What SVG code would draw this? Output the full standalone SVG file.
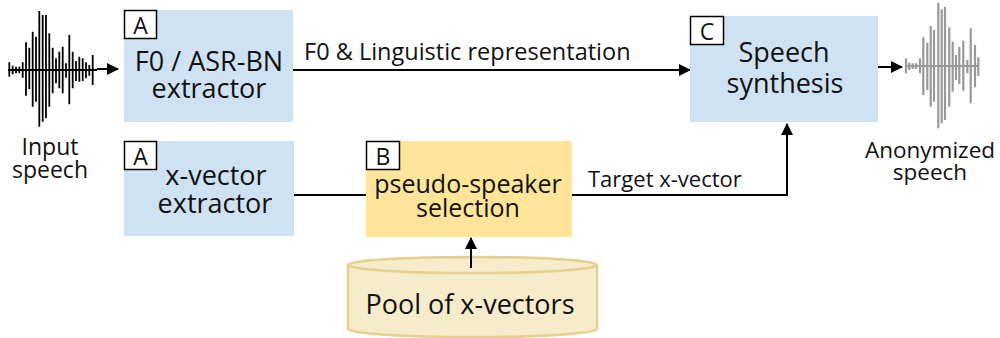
<svg xmlns="http://www.w3.org/2000/svg" width="1000" height="338" viewBox="0 0 1000 338">
<defs>
<marker id="ah" markerWidth="12" markerHeight="12" refX="11" refY="6" orient="auto" markerUnits="userSpaceOnUse">
<path d="M0,0 L12,6 L0,12 Z" fill="#000"/>
</marker>
<style>
text{font-family:"Open Sans","Noto Sans","DejaVu Sans",sans-serif;fill:#111;}
.main{font-size:27px;text-anchor:middle;}
.lbl{font-size:22px;}
.ctr{text-anchor:middle;}
.tag{font-size:23px;text-anchor:middle;}
.blue{fill:#cfe2f3;}
.yel{fill:#ffe599;}
.tagbox{fill:#fff;stroke:#000;stroke-width:1.5;}
.conn{stroke:#000;stroke-width:2;fill:none;}
</style>
</defs>
<g id="input-wave" stroke="#000" stroke-width="1.8" fill="none">
<path d="M8,70 H97"/>
<path d="M9.3,62.3V76.7 M12.7,65.7V74.3 M16,66.7V73.3 M19.3,66.7V73.3 M22.7,62.3V77.7 M26,42.3V95.7 M29.3,47.7V89 M32.7,31.7V106.7 M36,36.7V101.7 M39.3,11V126.7 M42.7,15V121.7 M46,15V118.3 M49.3,33.3V106.7 M52.7,47.7V93.3 M56,58.3V83.3 M59.3,51.7V88.3 M62.7,46.7V93.3 M66,63.3V77.7 M69.3,35V104.3 M72.7,51.7V88.3 M76,61V81 M79.3,56.7V81.7 M82.7,58.3V81 M86,62.3V78.3 M89.3,65V75.7 M92.7,55V85"/>
</g>
<text class="lbl ctr" x="50" y="155" style="font-size:23px">Input</text>
<text class="lbl ctr" x="50" y="178" style="font-size:23px">speech</text>
<g id="output-wave" stroke="#999" stroke-width="2.2" fill="none">
<path d="M905,66 H979"/>
<path d="M906,58.3V73.3 M909.3,62.7V70 M912.7,63.3V69 M916,63.3V69 M920,58.3V73.3 M923.3,37.3V95 M927.3,42.7V90 M930.7,26V106.7 M934,30V101.7 M938.3,2.7V128.3 M941.7,9.3V123.3 M945,6.7V120 M949.3,27.3V106.7 M952.7,41.7V91.7 M956,55V80 M959.3,46.7V84 M963.3,40.7V90.7 M967.3,60V73.3 M970.7,28.3V103.3 M975,45V87.3 M978.3,57.3V76"/>
</g>
<text class="lbl ctr" x="930" y="158" style="font-size:22.5px">Anonymized</text>
<text class="lbl ctr" x="930" y="180" style="font-size:22.5px">speech</text>
<g id="connectors">
<path class="conn" d="M97,69 H118" marker-end="url(#ah)"/>
<path class="conn" d="M293,70 H690" marker-end="url(#ah)"/>
<path class="conn" d="M878,67 H902" marker-end="url(#ah)"/>
<path class="conn" d="M294,195 H366"/>
<path class="conn" d="M572,195 H787 V124" marker-end="url(#ah)"/>
<text class="lbl" x="304" y="60" style="font-size:23.5px">F0 &amp; Linguistic representation</text>
<text class="lbl" x="588" y="187">Target x-vector</text>
</g>
<g id="f0-asr">
<rect class="blue" x="124" y="10" width="169" height="112"/>
<rect class="tagbox" x="124.5" y="10.5" width="32" height="28"/>
<text class="tag" x="140.5" y="34">A</text>
<text class="main" x="209" y="71">F0 / ASR-BN</text>
<text class="main" x="209" y="98">extractor</text>
</g>
<g id="xvector">
<rect class="blue" x="124" y="141" width="170" height="95"/>
<rect class="tagbox" x="124.5" y="141.5" width="32" height="28"/>
<text class="tag" x="140.5" y="165">A</text>
<text class="main" x="216" y="185">x-vector</text>
<text class="main" x="215" y="213">extractor</text>
</g>
<g id="pseudo">
<rect class="yel" x="366" y="141" width="206" height="96"/>
<rect class="tagbox" x="366.5" y="141.5" width="33" height="28"/>
<text class="tag" x="383" y="165">B</text>
<text class="main" x="468" y="193" style="font-size:25px">pseudo-speaker</text>
<text class="main" x="468" y="217" style="font-size:25px">selection</text>
</g>
<g id="synth">
<rect class="blue" x="690" y="16" width="188" height="106"/>
<rect class="tagbox" x="690.5" y="16.5" width="33" height="28"/>
<text class="tag" x="707" y="40">C</text>
<text class="main" x="784" y="62">Speech</text>
<text class="main" x="785" y="93">synthesis</text>
</g>
<g id="pool">
<path d="M348,265 V329 A124.5,8 0 0 0 597,329 V265" fill="#f6ebcb" stroke="#e5cf8c" stroke-width="2.5"/>
<ellipse cx="472.5" cy="265" rx="124.5" ry="8" fill="#f6ebcb" stroke="#e5cf8c" stroke-width="2.5"/>
<path class="conn" d="M471,268 V238" marker-end="url(#ah)"/>
<text class="main" x="470" y="314">Pool of x-vectors</text>
</g>
</svg>
